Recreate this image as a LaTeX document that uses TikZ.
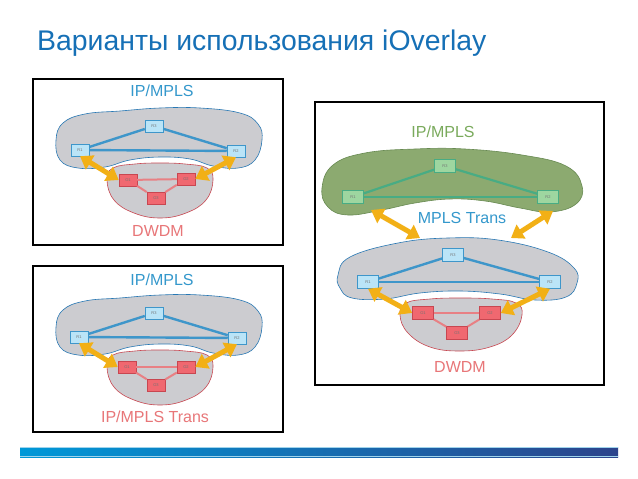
\documentclass[tikz,border=0pt]{standalone}
\usepackage{fontspec}
\setmainfont{Liberation Sans}
\usetikzlibrary{arrows.meta}
\definecolor{titleblue}{RGB}{22,112,182}
\definecolor{ipblue}{RGB}{52,152,204}
\definecolor{dwdmred}{RGB}{232,118,120}
\definecolor{ipgreen}{RGB}{122,170,92}
\definecolor{cloudgray}{RGB}{204,204,208}
\definecolor{cloudgreen}{RGB}{140,170,112}
\definecolor{greenedge}{RGB}{104,138,82}
\definecolor{blueedge}{RGB}{40,120,180}
\definecolor{rededge}{RGB}{200,70,80}
\definecolor{rtrblue}{RGB}{186,228,247}
\definecolor{rtrred}{RGB}{240,104,112}
\definecolor{rtrgreen}{RGB}{158,214,160}
\definecolor{linkblue}{RGB}{62,150,202}
\definecolor{linkred}{RGB}{232,128,132}
\definecolor{linkgreen}{RGB}{72,172,132}
\definecolor{arrowyel}{RGB}{242,176,22}
\definecolor{barleft}{RGB}{0,152,216}
\definecolor{barright}{RGB}{44,68,140}
\definecolor{barline}{RGB}{160,212,236}
\tikzset{
  frame/.style={draw=black,line width=1.4pt},
  bluecloud/.style={fill=cloudgray,draw=blueedge,line width=0.6pt},
  redcloud/.style={fill=cloudgray,draw=rededge,line width=0.6pt},
  greencloud/.style={fill=cloudgreen,draw=greenedge,line width=0.6pt},
  rtr/.style={rectangle,inner sep=0pt,minimum width=18pt,minimum height=12pt,line width=0.5pt,text=black!55,font=\fontsize{4}{5}\selectfont},
  rtrb/.style={rtr,fill=rtrblue,draw=linkblue},
  rtrr/.style={rtr,fill=rtrred,draw=rededge},
  rtrg/.style={rtr,fill=rtrgreen,draw=linkgreen},
  big/.style={minimum width=21pt,minimum height=13pt},
  linkb/.style={draw=linkblue,line width=2.4pt},
  linkr/.style={draw=linkred,line width=2pt},
  linkg/.style={draw=linkgreen,line width=2.2pt},
  dblarr/.style={draw=arrowyel,line width=5pt,{Triangle[width=16pt,length=12pt]}-{Triangle[width=16pt,length=12pt]}},
  lbl/.style={inner sep=0pt,font=\fontsize{16}{19}\selectfont}
}
\begin{document}
\begin{tikzpicture}[x=1pt,y=-1pt]
\path[use as bounding box,fill=white] (0,0) rectangle (638,479);
\node[inner sep=0pt,anchor=base west,text=titleblue,font=\fontsize{28.4}{34}\selectfont] (title) at (37,50) {Варианты использования iOverlay};
\path[frame] (33,79) rectangle (283,245);
\path[frame] (33,266) rectangle (283,432);
\path[frame] (315,102) rectangle (604,385);
\path[bluecloud] plot[smooth cycle,tension=0.7] coordinates {(56,140) (63,123) (85,114) (120,111) (160,108) (200,108) (240,113) (258,124) (262,140) (255,160) (238,168) (213,166) (190,159) (160,157) (130,160) (105,167) (78,168) (60,160)};
\path[redcloud] plot[smooth cycle,tension=0.7] coordinates {(107,180) (113,168) (135,164) (160,163) (185,164) (207,168) (213,180) (206,200) (186,213) (160,218) (134,213) (114,200)};
\node[rtrb] (r3a) at (154,126) {R3};
\node[rtrb] (r1a) at (80,150) {R1};
\node[rtrb] (r2a) at (236,151) {R2};
\node[rtrr] (o1a) at (128,180) {O1};
\node[rtrr] (o2a) at (186,179) {O2};
\node[rtrr] (o3a) at (156,198) {O3};
\draw[linkb] (r1a) -- (r3a) -- (r2a);
\draw[linkb] (r1a) -- (r2a);
\draw[linkr] (o1a) -- (o2a);
\draw[linkr] (o1a) -- (o3a) -- (o2a);
\draw[dblarr] (r1a.south) -- (o1a.west);
\draw[dblarr] (r2a.south) -- (o2a.east);
\node[lbl,text=ipblue] (ipa) at (162,91) {IP/MPLS};
\node[lbl,text=dwdmred] (dwdma) at (158,231) {DWDM};
\path[bluecloud] plot[smooth cycle,tension=0.7] coordinates {(56,327) (63,310) (85,301) (120,298) (160,295) (200,295) (240,300) (258,311) (262,327) (255,347) (238,355) (213,353) (190,346) (160,344) (130,347) (105,354) (78,355) (60,347)};
\path[redcloud] plot[smooth cycle,tension=0.7] coordinates {(107,367) (113,355) (135,351) (160,350) (185,351) (207,355) (213,367) (206,387) (186,400) (160,405) (134,400) (114,387)};
\node[rtrb] (r3b) at (154,313) {R3};
\node[rtrb] (r1b) at (79,337) {R1};
\node[rtrb] (r2b) at (237,338) {R2};
\node[rtrr] (o1b) at (127,367) {O1};
\node[rtrr] (o2b) at (186,367) {O2};
\node[rtrr] (o3b) at (156,385) {O3};
\draw[linkb] (r1b) -- (r3b) -- (r2b);
\draw[linkb] (r1b) -- (r2b);
\draw[linkr] (o1b) -- (o2b);
\draw[linkr] (o1b) -- (o3b) -- (o2b);
\draw[dblarr] (r1b.south) -- (o1b.west);
\draw[dblarr] (r2b.south) -- (o2b.east);
\node[lbl,text=ipblue] (ipb) at (162,280) {IP/MPLS};
\node[lbl,text=dwdmred] (transb) at (155,417) {IP/MPLS Trans};
\path[greencloud] plot[smooth cycle,tension=0.7] coordinates {(322,188) (333,165) (365,153) (415,149) (465,149) (522,155) (566,166) (582,186) (576,204) (550,212) (520,208) (485,201) (450,199) (415,203) (382,210) (348,215) (328,207)};
\path[bluecloud] plot[smooth cycle,tension=0.7] coordinates {(338,275) (350,257) (398,243) (448,238) (498,240) (548,252) (574,268) (577,283) (566,297) (535,300) (500,294) (460,291) (420,293) (385,299) (352,298) (340,288)};
\path[redcloud] plot[smooth cycle,tension=0.7] coordinates {(400,315) (406,303) (430,299) (460,298) (492,299) (516,303) (522,315) (512,335) (490,347) (460,351) (430,347) (408,333)};
\node[rtrg,big] (g3) at (445,166) {R3};
\node[rtrg,big] (g1) at (353,197) {R1};
\node[rtrg,big] (g2) at (548,197) {R2};
\node[rtrb,big] (r3c) at (453,255) {R3};
\node[rtrb,big] (r1c) at (368,282) {R1};
\node[rtrb,big] (r2c) at (550,282) {R2};
\node[rtrr,big] (o1c) at (423,313) {O1};
\node[rtrr,big] (o2c) at (490,313) {O2};
\node[rtrr,big] (o3c) at (457,333) {O3};
\draw[linkg] (g1) -- (g3) -- (g2);
\draw[linkg] (g1) -- (g2);
\draw[linkb] (r1c) -- (r3c) -- (r2c);
\draw[linkb] (r1c) -- (r2c);
\draw[linkr] (o1c) -- (o2c);
\draw[linkr] (o1c) -- (o3c) -- (o2c);
\coordinate (gtl) at (371,210);
\coordinate (btl) at (420,238);
\coordinate (gtr) at (553,211);
\coordinate (btr) at (511,238);
\draw[dblarr] (gtl) -- (btl);
\draw[dblarr] (gtr) -- (btr);
\draw[dblarr] (r1c.south) -- (o1c.west);
\draw[dblarr] (r2c.south) -- (o2c.east);
\node[lbl,text=ipgreen] (ipc) at (443,132) {IP/MPLS};
\node[lbl,text=ipblue] (transc) at (462,218) {MPLS Trans};
\node[lbl,text=dwdmred] (dwdmc) at (460,367) {DWDM};
\shade[left color=barleft,right color=barright] (20,447) rectangle (618,457);
\draw[barline,line width=0.8pt] (20,447.4) -- (618,447.4);
\draw[barline,line width=0.8pt] (20,456.6) -- (618,456.6);
\end{tikzpicture}
\end{document}
